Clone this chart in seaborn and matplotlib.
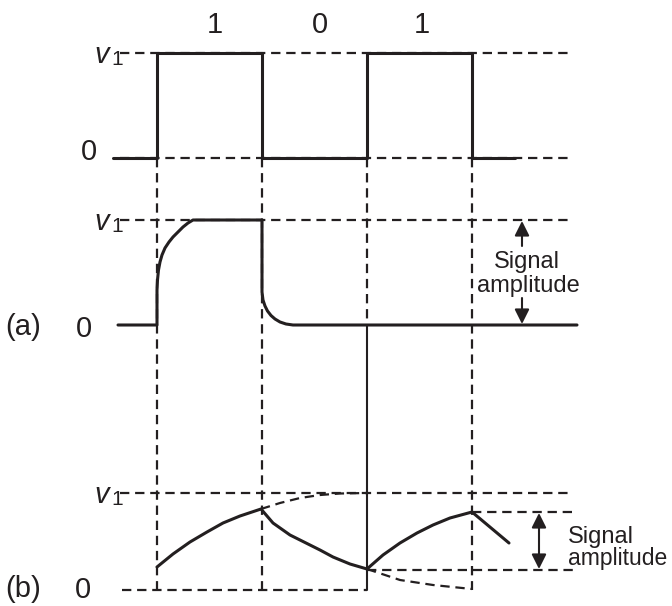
import pandas as pd
import seaborn as sns
import matplotlib.pyplot as plt

# all coordinates are in picture pixels (x to the right, y downwards)
bit_edges = [157, 262, 367, 472]
bit_labels = ['1', '0', '1']
bit_label_x = [215, 320, 422]

# levels of the three panels: (v1, 0)
top_levels = (53, 158)
a_levels = (220, 325)
b_levels = (493, 590)

# input square wave
sq_x = [113, 157, 157, 262, 262, 367, 367, 472, 472, 515]
sq_y = [158, 158, 53, 53, 158, 158, 53, 53, 158, 158]

# (a) fast response
a_x = [118, 157, 157, 157.5, 158.5, 160, 162, 165, 169, 173, 178, 183, 188, 193,
       262, 262, 263, 265, 267.5, 271, 275, 280, 286, 293, 300, 577]
a_y = [325, 325, 290, 280, 270, 262, 255, 248, 242, 237, 232, 227, 223, 220,
       220, 292, 300, 306, 311, 315.5, 319, 322, 324, 325, 325, 325]

# (b) slow response
b_x = [157, 173, 190, 207, 223, 240, 261, 273, 290, 300, 320, 333, 350, 367,
       383, 400, 417, 433, 450, 472, 509]
b_y = [567, 554, 542, 532, 523, 516, 509, 523, 535, 540, 550, 557, 564, 569,
       555, 543, 533, 525, 518, 512, 543]

# dashed continuations of the slow response
rise_x = [261, 280, 300, 320, 340, 367]
rise_y = [509, 503, 498, 495, 493.5, 493]
fall_x = [367, 400, 433, 472]
fall_y = [569, 580, 585, 589]

sns.set_style('white')
plt.rcParams['font.family'] = ['Liberation Sans', 'DejaVu Sans']

fig = plt.figure(figsize=(6.72, 6.06), dpi=100)
ax = fig.add_axes([0, 0, 1, 1])
ax.set_xlim(0, 672)
ax.set_ylim(606, 0)
ax.axis('off')

ink = '#231f20'
dash = (0, (4.2, 2.6))
dlw = 1.6
slw = 2.2

# horizontal guide lines
for y in [top_levels[0], top_levels[1], a_levels[0], b_levels[0]]:
    ax.plot([120, 572], [y, y], color=ink, lw=dlw, ls=dash)
ax.plot([122, 367], [b_levels[1], b_levels[1]], color=ink, lw=dlw, ls=dash)
ax.plot([472, 575], [512, 512], color=ink, lw=dlw, ls=dash)
ax.plot([367, 575], [570, 570], color=ink, lw=dlw, ls=dash)

# vertical guide lines
for x in bit_edges:
    if x == 367:
        ax.plot([x, x], [158, 325], color=ink, lw=dlw, ls=dash)
        ax.plot([x, x], [325, 590], color=ink, lw=1.5)
    else:
        ax.plot([x, x], [158, 590], color=ink, lw=dlw, ls=dash)

# waveforms
sns.lineplot(x=sq_x, y=sq_y, sort=False, estimator=None, color=ink, lw=slw, ax=ax)
sns.lineplot(x=a_x, y=a_y, sort=False, estimator=None, color=ink, lw=slw, ax=ax)
sns.lineplot(x=b_x, y=b_y, sort=False, estimator=None, color=ink, lw=slw, ax=ax)
ax.plot(rise_x, rise_y, color=ink, lw=dlw, ls=dash)
ax.plot(fall_x, fall_y, color=ink, lw=dlw, ls=dash)

fs = 21
for x, t in zip(bit_label_x, bit_labels):
    ax.text(x, 33, t, fontsize=fs, ha='center', va='baseline', color=ink)


def v1_label(y):
    ax.text(109, y + 10, 'v', fontsize=21, style='italic', ha='right', va='baseline', color=ink)
    ax.text(111, y + 12, '1', fontsize=15, ha='left', va='baseline', color=ink)


v1_label(top_levels[0])
v1_label(a_levels[0])
v1_label(b_levels[0])
ax.text(89, 160, '0', fontsize=fs, ha='center', va='baseline', color=ink)
ax.text(84, 337, '0', fontsize=fs, ha='center', va='baseline', color=ink)
ax.text(83, 598, '0', fontsize=fs, ha='center', va='baseline', color=ink)
ax.text(23, 335, '(a)', fontsize=fs, ha='center', va='baseline', color=ink)
ax.text(23, 597, '(b)', fontsize=fs, ha='center', va='baseline', color=ink)

# signal amplitude (a)
sfs = 17
arr = dict(arrowstyle='-|>', color=ink, lw=1.5, mutation_scale=22, shrinkA=0, shrinkB=0)
ax.annotate('', xy=(522, 221), xytext=(522, 246), arrowprops=arr)
ax.annotate('', xy=(522, 324), xytext=(522, 298), arrowprops=arr)
ax.text(527, 268, 'Signal', fontsize=sfs, ha='center', va='baseline', color=ink)
ax.text(528, 292, 'amplitude', fontsize=sfs, ha='center', va='baseline', color=ink)

# signal amplitude (b)
arr2 = dict(arrowstyle='<|-|>', color=ink, lw=1.5, mutation_scale=22, shrinkA=0, shrinkB=0)
ax.annotate('', xy=(539, 513), xytext=(539, 569), arrowprops=arr2)
ax.text(568, 543, 'Signal', fontsize=sfs, ha='left', va='baseline', color=ink)
ax.text(568, 565, 'amplitude', fontsize=16.5, ha='left', va='baseline', color=ink)

fig.savefig('out.png', dpi=100)
